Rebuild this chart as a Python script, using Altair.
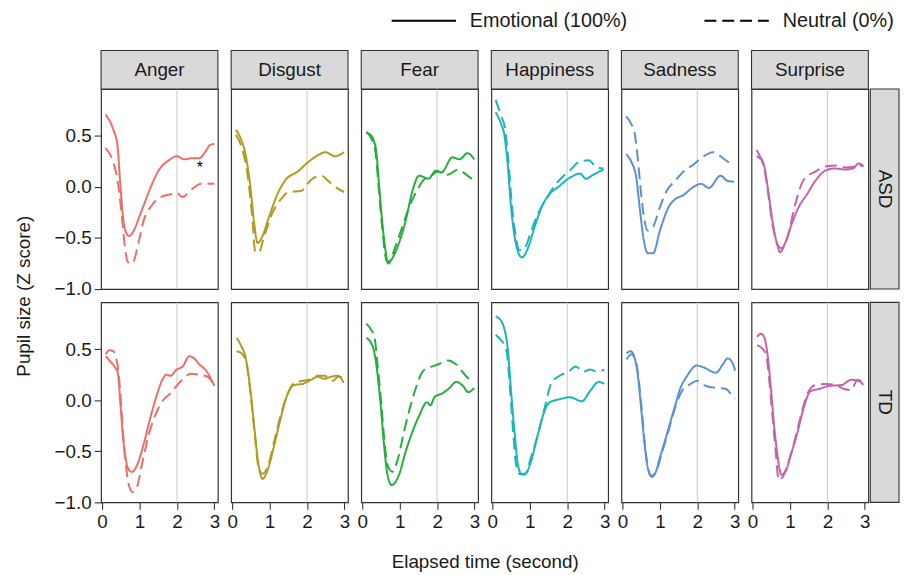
import altair as alt
import pandas as pd

EMOTIONS = ["Anger", "Disgust", "Fear", "Happiness", "Sadness", "Surprise"]
GROUPS = ["ASD", "TD"]
CONDITIONS = ["Emotional (100%)", "Neutral (0%)"]
COLORS = ["#EE6D67", "#B09A20", "#25AE3C", "#1BB4BA", "#5B8FD6", "#C462AC"]
X_TICKS = [0, 1, 2, 3]
Y_TICKS = [-1.0, -0.5, 0.0, 0.5]
VLINE_X = [2]
STAR_T = [2.61]
STAR_Y = [0.18]
STAR_LABEL = ["*"]

# ---------------- ASD ----------------
ANGER_ASD_EMO_T = [0.09, 0.30, 0.41, 0.48, 0.57, 0.66, 0.72, 0.79, 1.06, 1.29, 1.51, 1.78, 2.00, 2.19, 2.40, 2.59, 2.77, 2.88, 3.00]
ANGER_ASD_EMO_Y = [0.71, 0.56, 0.41, 0.06, -0.33, -0.46, -0.48, -0.46, -0.23, -0.01, 0.16, 0.26, 0.30, 0.27, 0.28, 0.28, 0.35, 0.41, 0.42]
ANGER_ASD_NEU_T = [0.09, 0.30, 0.42, 0.52, 0.61, 0.68, 0.76, 0.84, 0.97, 1.11, 1.33, 1.56, 1.87, 2.00, 2.14, 2.41, 2.64, 3.00]
ANGER_ASD_NEU_Y = [0.38, 0.24, 0.05, -0.26, -0.59, -0.73, -0.75, -0.73, -0.55, -0.33, -0.18, -0.10, -0.07, -0.06, -0.10, -0.02, 0.03, 0.03]

DISGUST_ASD_EMO_T = [0.10, 0.22, 0.35, 0.49, 0.58, 0.68, 0.80, 0.98, 1.21, 1.43, 1.75, 2.02, 2.29, 2.49, 2.74, 2.99]
DISGUST_ASD_EMO_Y = [0.56, 0.48, 0.33, -0.01, -0.33, -0.55, -0.49, -0.30, -0.07, 0.07, 0.15, 0.24, 0.31, 0.34, 0.30, 0.34]
DISGUST_ASD_NEU_T = [0.10, 0.26, 0.40, 0.53, 0.62, 0.71, 0.85, 1.07, 1.30, 1.52, 1.84, 2.11, 2.38, 2.56, 2.79, 2.99]
DISGUST_ASD_NEU_Y = [0.51, 0.38, 0.15, -0.27, -0.64, -0.64, -0.49, -0.26, -0.12, -0.05, -0.04, 0.07, 0.11, 0.06, -0.01, -0.05]

FEAR_ASD_EMO_T = [0.11, 0.22, 0.31, 0.38, 0.44, 0.53, 0.62, 0.69, 0.80, 0.98, 1.16, 1.34, 1.52, 1.77, 1.97, 2.11, 2.41, 2.60, 2.81, 2.99]
FEAR_ASD_EMO_Y = [0.53, 0.51, 0.45, 0.33, 0.06, -0.33, -0.62, -0.75, -0.70, -0.55, -0.33, -0.04, 0.11, 0.08, 0.16, 0.14, 0.29, 0.27, 0.33, 0.27]
FEAR_ASD_NEU_T = [0.11, 0.26, 0.35, 0.44, 0.53, 0.65, 0.71, 0.89, 1.07, 1.25, 1.44, 1.62, 1.84, 2.02, 2.29, 2.56, 2.81, 2.99]
FEAR_ASD_NEU_Y = [0.54, 0.46, 0.35, -0.01, -0.39, -0.72, -0.73, -0.58, -0.39, -0.20, -0.05, 0.06, 0.11, 0.15, 0.12, 0.17, 0.11, 0.06]

HAPPY_ASD_EMO_T = [0.09, 0.23, 0.32, 0.41, 0.50, 0.61, 0.70, 0.79, 0.95, 1.13, 1.35, 1.53, 1.76, 2.07, 2.34, 2.50, 2.70, 2.97]
HAPPY_ASD_EMO_Y = [0.73, 0.62, 0.51, 0.22, -0.20, -0.52, -0.65, -0.69, -0.60, -0.39, -0.17, -0.07, 0.00, 0.09, 0.13, 0.08, 0.12, 0.17]
HAPPY_ASD_NEU_T = [0.09, 0.23, 0.34, 0.43, 0.52, 0.63, 0.72, 0.86, 1.04, 1.22, 1.44, 1.62, 1.85, 2.07, 2.34, 2.57, 2.79, 2.97]
HAPPY_ASD_NEU_Y = [0.85, 0.70, 0.57, 0.25, -0.17, -0.49, -0.62, -0.60, -0.43, -0.26, -0.12, -0.01, 0.09, 0.16, 0.25, 0.26, 0.19, 0.18]

SAD_ASD_EMO_T = [0.10, 0.23, 0.37, 0.46, 0.57, 0.68, 0.82, 1.00, 1.23, 1.41, 1.63, 1.86, 2.10, 2.31, 2.62, 2.80, 2.98]
SAD_ASD_EMO_Y = [0.32, 0.25, 0.09, -0.20, -0.52, -0.65, -0.65, -0.43, -0.20, -0.12, -0.08, -0.01, 0.03, -0.01, 0.11, 0.06, 0.05]
SAD_ASD_NEU_T = [0.10, 0.23, 0.32, 0.41, 0.50, 0.59, 0.68, 0.82, 1.00, 1.18, 1.41, 1.63, 1.90, 2.10, 2.42, 2.62, 2.80, 2.98]
SAD_ASD_NEU_Y = [0.69, 0.62, 0.54, 0.28, -0.07, -0.33, -0.43, -0.39, -0.20, -0.04, 0.06, 0.15, 0.22, 0.28, 0.34, 0.30, 0.25, 0.23]

SURP_ASD_EMO_T = [0.11, 0.20, 0.32, 0.42, 0.53, 0.65, 0.74, 0.87, 1.05, 1.23, 1.46, 1.68, 1.95, 2.18, 2.49, 2.68, 2.84, 2.96]
SURP_ASD_EMO_Y = [0.36, 0.30, 0.19, -0.04, -0.33, -0.55, -0.64, -0.55, -0.36, -0.20, -0.07, 0.06, 0.16, 0.18, 0.17, 0.18, 0.23, 0.20]
SURP_ASD_NEU_T = [0.11, 0.23, 0.33, 0.42, 0.53, 0.65, 0.77, 0.92, 1.14, 1.37, 1.68, 1.95, 2.23, 2.50, 2.77, 2.96]
SURP_ASD_NEU_Y = [0.30, 0.27, 0.15, -0.07, -0.36, -0.55, -0.60, -0.51, -0.17, 0.07, 0.15, 0.20, 0.21, 0.19, 0.20, 0.21]

# ---------------- TD ----------------
ANGER_TD_EMO_T = [0.10, 0.22, 0.35, 0.42, 0.49, 0.56, 0.64, 0.71, 0.80, 0.93, 1.11, 1.29, 1.47, 1.61, 1.72, 1.83, 1.99, 2.15, 2.33, 2.46, 2.60, 2.78, 3.00]
ANGER_TD_EMO_Y = [0.43, 0.38, 0.32, 0.27, -0.04, -0.36, -0.59, -0.68, -0.70, -0.64, -0.43, -0.17, 0.06, 0.20, 0.25, 0.24, 0.30, 0.33, 0.43, 0.41, 0.35, 0.29, 0.14]
ANGER_TD_NEU_T = [0.10, 0.19, 0.30, 0.34, 0.42, 0.49, 0.56, 0.64, 0.73, 0.82, 0.93, 1.07, 1.25, 1.43, 1.61, 1.83, 1.99, 2.19, 2.37, 2.60, 2.82, 3.00]
ANGER_TD_NEU_Y = [0.45, 0.49, 0.48, 0.45, 0.33, 0.06, -0.33, -0.65, -0.85, -0.90, -0.85, -0.62, -0.33, -0.14, -0.01, 0.07, 0.14, 0.22, 0.26, 0.25, 0.23, 0.14]

DISGUST_TD_EMO_T = [0.12, 0.23, 0.37, 0.50, 0.59, 0.70, 0.81, 0.95, 1.13, 1.30, 1.48, 1.66, 1.88, 2.06, 2.29, 2.46, 2.64, 2.82, 2.98]
DISGUST_TD_EMO_Y = [0.61, 0.54, 0.40, 0.06, -0.26, -0.62, -0.77, -0.68, -0.43, -0.17, 0.06, 0.15, 0.16, 0.19, 0.23, 0.21, 0.23, 0.24, 0.17]
DISGUST_TD_NEU_T = [0.12, 0.25, 0.37, 0.50, 0.61, 0.70, 0.81, 0.95, 1.13, 1.30, 1.48, 1.66, 1.88, 2.06, 2.29, 2.46, 2.70, 2.82, 2.98]
DISGUST_TD_NEU_Y = [0.48, 0.46, 0.38, 0.03, -0.36, -0.65, -0.72, -0.65, -0.39, -0.14, 0.06, 0.17, 0.19, 0.20, 0.24, 0.24, 0.19, 0.23, 0.22]

FEAR_TD_EMO_T = [0.11, 0.22, 0.31, 0.40, 0.49, 0.58, 0.67, 0.78, 0.87, 0.99, 1.17, 1.35, 1.52, 1.73, 1.82, 1.93, 2.15, 2.33, 2.51, 2.69, 2.83, 2.99]
FEAR_TD_EMO_Y = [0.61, 0.57, 0.49, 0.28, -0.04, -0.43, -0.72, -0.83, -0.81, -0.72, -0.49, -0.30, -0.15, -0.02, -0.05, 0.03, 0.07, 0.12, 0.18, 0.14, 0.08, 0.12]
FEAR_TD_NEU_T = [0.11, 0.22, 0.33, 0.40, 0.51, 0.60, 0.69, 0.81, 0.94, 1.12, 1.30, 1.48, 1.61, 1.79, 2.02, 2.29, 2.51, 2.74, 2.90]
FEAR_TD_NEU_Y = [0.75, 0.70, 0.61, 0.38, -0.04, -0.43, -0.65, -0.70, -0.59, -0.30, -0.04, 0.17, 0.28, 0.32, 0.35, 0.39, 0.35, 0.25, 0.19]

HAPPY_TD_EMO_T = [0.09, 0.23, 0.32, 0.41, 0.50, 0.59, 0.68, 0.77, 0.88, 1.04, 1.22, 1.40, 1.53, 1.80, 2.07, 2.39, 2.61, 2.84, 2.99]
HAPPY_TD_EMO_Y = [0.82, 0.78, 0.70, 0.51, 0.09, -0.30, -0.62, -0.72, -0.72, -0.59, -0.33, -0.10, -0.02, 0.01, 0.03, -0.01, 0.09, 0.18, 0.16]
HAPPY_TD_NEU_T = [0.09, 0.23, 0.32, 0.39, 0.47, 0.56, 0.63, 0.72, 0.86, 1.04, 1.22, 1.40, 1.58, 1.80, 2.03, 2.23, 2.43, 2.61, 2.79, 2.99]
HAPPY_TD_NEU_Y = [0.64, 0.59, 0.54, 0.46, 0.12, -0.33, -0.62, -0.72, -0.73, -0.55, -0.33, -0.07, 0.17, 0.24, 0.28, 0.33, 0.28, 0.30, 0.28, 0.30]

SAD_TD_EMO_T = [0.11, 0.22, 0.31, 0.40, 0.49, 0.58, 0.67, 0.78, 0.87, 1.01, 1.19, 1.37, 1.55, 1.73, 1.98, 2.18, 2.50, 2.68, 2.81, 2.92, 3.01]
SAD_TD_EMO_Y = [0.46, 0.48, 0.43, 0.28, -0.04, -0.39, -0.65, -0.75, -0.72, -0.55, -0.33, -0.10, 0.12, 0.24, 0.34, 0.32, 0.27, 0.35, 0.41, 0.38, 0.29]
SAD_TD_NEU_T = [0.11, 0.24, 0.33, 0.42, 0.51, 0.60, 0.69, 0.78, 0.90, 1.05, 1.23, 1.41, 1.59, 1.82, 2.00, 2.23, 2.54, 2.77, 2.90, 3.01]
SAD_TD_NEU_Y = [0.40, 0.45, 0.41, 0.25, -0.07, -0.43, -0.67, -0.74, -0.70, -0.52, -0.30, -0.07, 0.09, 0.16, 0.19, 0.14, 0.12, 0.11, 0.06, 0.02]

SURP_TD_EMO_T = [0.12, 0.22, 0.32, 0.40, 0.49, 0.58, 0.67, 0.77, 0.88, 1.01, 1.19, 1.37, 1.55, 1.78, 2.04, 2.39, 2.63, 2.83, 2.96]
SURP_TD_EMO_Y = [0.62, 0.65, 0.61, 0.45, 0.12, -0.26, -0.55, -0.73, -0.70, -0.55, -0.33, -0.07, 0.09, 0.11, 0.14, 0.15, 0.20, 0.19, 0.15]
SURP_TD_NEU_T = [0.12, 0.25, 0.36, 0.43, 0.52, 0.61, 0.70, 0.79, 0.92, 1.10, 1.28, 1.46, 1.69, 1.96, 2.22, 2.45, 2.63, 2.81, 2.96]
SURP_TD_NEU_Y = [0.54, 0.51, 0.45, 0.26, -0.10, -0.46, -0.78, -0.76, -0.65, -0.43, -0.17, 0.06, 0.15, 0.16, 0.15, 0.11, 0.10, 0.20, 0.17]

SERIES = {
    ("Anger", "ASD"): [(ANGER_ASD_EMO_T, ANGER_ASD_EMO_Y), (ANGER_ASD_NEU_T, ANGER_ASD_NEU_Y)],
    ("Disgust", "ASD"): [(DISGUST_ASD_EMO_T, DISGUST_ASD_EMO_Y), (DISGUST_ASD_NEU_T, DISGUST_ASD_NEU_Y)],
    ("Fear", "ASD"): [(FEAR_ASD_EMO_T, FEAR_ASD_EMO_Y), (FEAR_ASD_NEU_T, FEAR_ASD_NEU_Y)],
    ("Happiness", "ASD"): [(HAPPY_ASD_EMO_T, HAPPY_ASD_EMO_Y), (HAPPY_ASD_NEU_T, HAPPY_ASD_NEU_Y)],
    ("Sadness", "ASD"): [(SAD_ASD_EMO_T, SAD_ASD_EMO_Y), (SAD_ASD_NEU_T, SAD_ASD_NEU_Y)],
    ("Surprise", "ASD"): [(SURP_ASD_EMO_T, SURP_ASD_EMO_Y), (SURP_ASD_NEU_T, SURP_ASD_NEU_Y)],
    ("Anger", "TD"): [(ANGER_TD_EMO_T, ANGER_TD_EMO_Y), (ANGER_TD_NEU_T, ANGER_TD_NEU_Y)],
    ("Disgust", "TD"): [(DISGUST_TD_EMO_T, DISGUST_TD_EMO_Y), (DISGUST_TD_NEU_T, DISGUST_TD_NEU_Y)],
    ("Fear", "TD"): [(FEAR_TD_EMO_T, FEAR_TD_EMO_Y), (FEAR_TD_NEU_T, FEAR_TD_NEU_Y)],
    ("Happiness", "TD"): [(HAPPY_TD_EMO_T, HAPPY_TD_EMO_Y), (HAPPY_TD_NEU_T, HAPPY_TD_NEU_Y)],
    ("Sadness", "TD"): [(SAD_TD_EMO_T, SAD_TD_EMO_Y), (SAD_TD_NEU_T, SAD_TD_NEU_Y)],
    ("Surprise", "TD"): [(SURP_TD_EMO_T, SURP_TD_EMO_Y), (SURP_TD_NEU_T, SURP_TD_NEU_Y)],
}

rows = []
for (emo, grp), pair in SERIES.items():
    for cond, (ts, ys) in zip(CONDITIONS, pair):
        for t, y in zip(ts, ys):
            rows.append({"emotion": emo, "group": grp, "cond": cond, "t": t, "y": y})
df = pd.DataFrame(rows)

FONT = "Liberation Sans"
TXT = "#1A1A1A"
W, H = 118, 202
COL_GAP, ROW_GAP = 13.4, 13.5
STRIP = 39

xscale = alt.Scale(domain=[-0.027, 3.093], nice=False, zero=False)
yscale = alt.Scale(domain=[-1.0, 0.958], nice=False, zero=False)
dash_scale = alt.Scale(domain=CONDITIONS, range=[[1, 0], [12, 6]])

# a long horizontal line glyph: a custom path scaled by sqrt(size)/2
legend = alt.Legend(
    orient="none", legendX=316, legendY=-79, direction="horizontal", title=None,
    symbolType="M-8,0H8", symbolStrokeColor="black", symbolStrokeWidth=2, symbolSize=66,
    symbolFillColor="transparent",
    labelFontSize=20, labelFont=FONT, labelColor=TXT, labelOffset=36.5,
    columnPadding=73, padding=0,
)

common_axis = dict(
    labelFont=FONT, labelFontSize=19, labelColor=TXT, tickColor="#333333",
    tickSize=7, tickWidth=1.1, domain=False, grid=False, labelFlush=False,
    labelOverlap=False, titleFont=FONT, titleFontSize=19, titleFontWeight="normal",
    titleColor=TXT,
)


def panel(i, grp):
    emo = EMOTIONS[i]
    sub = df[(df.emotion == emo) & (df.group == grp)]
    if grp == "TD":
        kw = dict(common_axis, values=X_TICKS, format="d", labelPadding=3)
        if i == 0:
            kw.update(title="Elapsed time (second)", titleX=(6 * W + 5 * COL_GAP) / 2,
                      titlePadding=22)
        else:
            kw.update(title=None)
        xaxis = alt.Axis(**kw)
    else:
        xaxis = None
    if i == 0:
        kw = dict(common_axis, values=Y_TICKS, format=".1f", labelPadding=3)
        if grp == "ASD":
            kw.update(title="Pupil size (Z score)", titleY=(2 * H + ROW_GAP) / 2,
                      titlePadding=21)
        else:
            kw.update(title=None)
        yaxis = alt.Axis(**kw)
    else:
        yaxis = None

    vline = alt.Chart(pd.DataFrame({"x": VLINE_X})).mark_rule(
        color="#C8C8C8", strokeWidth=1
    ).encode(x=alt.X("x:Q", scale=xscale, axis=xaxis))

    lines = alt.Chart(sub).mark_line(strokeCap="butt", strokeJoin="round", interpolate="monotone",
                                     strokeWidth=2).encode(
        x=alt.X("t:Q", scale=xscale, axis=xaxis),
        y=alt.Y("y:Q", scale=yscale, axis=yaxis),
        strokeDash=alt.StrokeDash("cond:N", scale=dash_scale, legend=legend),
        color=alt.value(COLORS[i]),
        order="t:Q",
    )
    layers = [vline, lines]

    if grp == "ASD":
        lab = pd.DataFrame({"label": [emo]})
        strip = alt.Chart(lab).mark_rect(fill="#D9D9D9", stroke="#333333", strokeWidth=1.1).encode(
            x=alt.value(0), x2=alt.value(W), y=alt.value(-STRIP), y2=alt.value(0))
        stext = alt.Chart(lab).mark_text(font=FONT, fontSize=19, color=TXT, baseline="middle").encode(
            x=alt.value(W / 2), y=alt.value(-STRIP / 2), text="label:N")
        layers += [strip, stext]
    if i == 5:
        lab = pd.DataFrame({"label": [grp]})
        rstrip = alt.Chart(lab).mark_rect(fill="#D9D9D9", stroke="#333333", strokeWidth=1.1).encode(
            x=alt.value(W + 2), x2=alt.value(W + 31), y=alt.value(0), y2=alt.value(H))
        rtext = alt.Chart(lab).mark_text(font=FONT, fontSize=19, color=TXT, angle=90, baseline="middle").encode(
            x=alt.value(W + 17), y=alt.value(H / 2), text="label:N")
        layers += [rstrip, rtext]
    if i == 0 and grp == "ASD":
        star = alt.Chart(pd.DataFrame({"t": STAR_T, "y": STAR_Y, "label": STAR_LABEL})).mark_text(
            font=FONT, fontSize=16, color="black", baseline="middle").encode(
            x=alt.X("t:Q", scale=xscale), y=alt.Y("y:Q", scale=yscale), text="label:N")
        layers.append(star)
    return alt.layer(*layers).properties(width=W, height=H)


panels = [panel(i, g) for g in GROUPS for i in range(len(EMOTIONS))]

chart = alt.concat(
    *panels, columns=6, spacing={"row": ROW_GAP, "column": COL_GAP}, bounds="flush"
).resolve_scale(
    x="independent", y="independent", strokeDash="shared"
).properties(
    padding={"left": 5, "top": 0, "right": 0, "bottom": 0},
    background="white",
).configure(
    font=FONT
).configure_view(
    stroke="#333333", strokeWidth=1.2
)

chart.save("out.html", embed_options={"renderer": "svg", "actions": False})
